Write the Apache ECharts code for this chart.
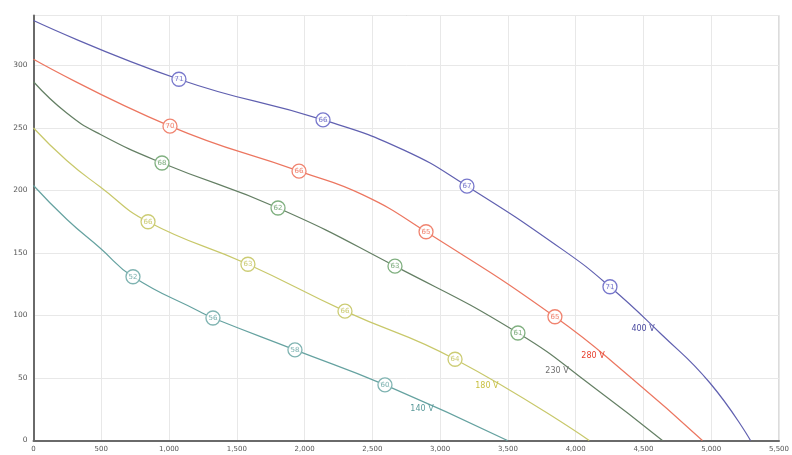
<!DOCTYPE html>
<html>
<head>
<meta charset="utf-8">
<script src="https://cdn.jsdelivr.net/npm/echarts@6/dist/echarts.min.js"></script>
<style>html,body{margin:0;padding:0;background:#fff}#c{width:792px;height:455px}</style>
</head>
<body>
<div id="c"></div>
<script>
// Airflow (x) vs pressure (y) curves for each voltage, with sound level markers
const xTicks = [0, 500, 1000, 1500, 2000, 2500, 3000, 3500, 4000, 4500, 5000, 5500];
const yTicks = [0, 50, 100, 150, 200, 250, 300];

const v400X = [0, 1073, 2136, 2729, 3198, 3906, 4253, 4622, 4991, 5290];
const v400Y = [336, 289, 256.5, 232.5, 203.5, 152.5, 123, 86, 46, 0];
const v400M = [null, '71', '66', null, '67', null, '71', null, null, null];

const v280X = [0, 1007, 1959, 2431, 2896, 3847, 4400, 4935];
const v280Y = [305, 251.5, 215.5, 196.5, 167, 99, 51, 0];
const v280M = [null, '70', '66', null, '65', '65', null, null];

const v230X = [0, 245, 491, 948, 1804, 2667, 3574, 4128, 4640];
const v230Y = [287, 262, 245, 222, 186, 139.5, 86, 43, 0];
const v230M = [null, null, null, '68', '62', '63', '61', null, null];

const v180X = [0, 245, 491, 845, 1582, 2298, 3110, 4100];
const v180Y = [250, 224, 203, 175, 141, 103.5, 65, 0];
const v180M = [null, null, null, '66', '63', '66', '64', null];

const v140X = [0, 245, 491, 734, 1228, 1324, 1929, 2593, 3497];
const v140Y = [204, 177, 154, 131, 103, 98, 72.5, 44.5, 0];
const v140M = [null, null, null, '52', null, '56', '58', '60', null];

const seriesNames = ['400 V', '280 V', '230 V', '180 V', '140 V'];
const nameAnchorX = [4497, 4128, 3862, 3345, 2866];
const nameAnchorY = [89, 67.5, 55.5, 43.5, 25];

const lineColors = ['#6060b0', '#ec7660', '#647f64', '#c8c86a', '#65a2a0'];
const markColors = ['#7878cc', '#f08470', '#80b080', '#cccc74', '#80b4b2'];
const textColors = ['#4a4aa0', '#e8402e', '#707070', '#c8c040', '#5a9a9a'];

const sets = [[v400X, v400Y, v400M], [v280X, v280Y, v280M], [v230X, v230Y, v230M], [v180X, v180Y, v180M], [v140X, v140Y, v140M]];

const series = sets.map(function (s, i) {
  const data = s[0].map(function (x, j) {
    const m = s[2][j];
    if (m === null) return { value: [x, s[1][j]], symbol: 'none' };
    return { value: [x, s[1][j]], mark: m, symbol: 'circle' };
  });
  return {
    name: seriesNames[i],
    type: 'line',
    data: data,
    smooth: 0.5,
    showAllSymbol: true,
    symbolSize: 14,
    lineStyle: { color: lineColors[i], width: 1.2 },
    itemStyle: { color: 'rgba(255,255,255,0.85)', borderColor: markColors[i], borderWidth: 1.3 },
    label: {
      show: true, position: 'inside', fontSize: 7, fontFamily: 'DejaVu Sans', color: markColors[i],
      formatter: function (p) { return p.data.mark || ''; }
    },
    emphasis: { disabled: true },
    z: 5 - i,
    markPoint: {
      symbol: 'circle', symbolSize: 0, silent: true,
      label: { show: true, position: 'inside', fontSize: 8, fontFamily: 'DejaVu Sans', color: textColors[i], formatter: function (p) { return p.name; } },
      data: [{ name: seriesNames[i], coord: [nameAnchorX[i], nameAnchorY[i]] }]
    }
  };
});

const chart = echarts.init(document.getElementById('c'), null, { renderer: 'canvas' });
chart.setOption({
  animation: false,
  backgroundColor: '#fff',
  grid: { left: 33.5, right: 13, top: 15.5, bottom: 14.5, show: true, borderColor: '#bdbdbd', borderWidth: 1 },
  xAxis: {
    type: 'value', min: xTicks[0], max: xTicks[xTicks.length - 1], interval: 500,
    axisLine: { show: true, lineStyle: { color: '#6a6a6a', width: 2 } },
    axisTick: { show: false },
    splitLine: { show: true, lineStyle: { color: '#e8e8e8', width: 1 } },
    axisLabel: { fontSize: 7, color: '#555', margin: 5, fontFamily: 'DejaVu Sans',
      formatter: function (v) { return xTicks.indexOf(v) >= 0 ? v.toLocaleString('en-US') : ''; } }
  },
  yAxis: {
    type: 'value', min: 0, max: 340, interval: 50,
    axisLine: { show: true, lineStyle: { color: '#6a6a6a', width: 2 } },
    axisTick: { show: false },
    splitLine: { show: true, lineStyle: { color: '#e8e8e8', width: 1 } },
    axisLabel: { fontSize: 7.5, color: '#555', margin: 6, fontFamily: 'DejaVu Sans',
      formatter: function (v) { return yTicks.indexOf(v) >= 0 ? String(v) : ''; } }
  },
  series: series
});
</script>
</body>
</html>
